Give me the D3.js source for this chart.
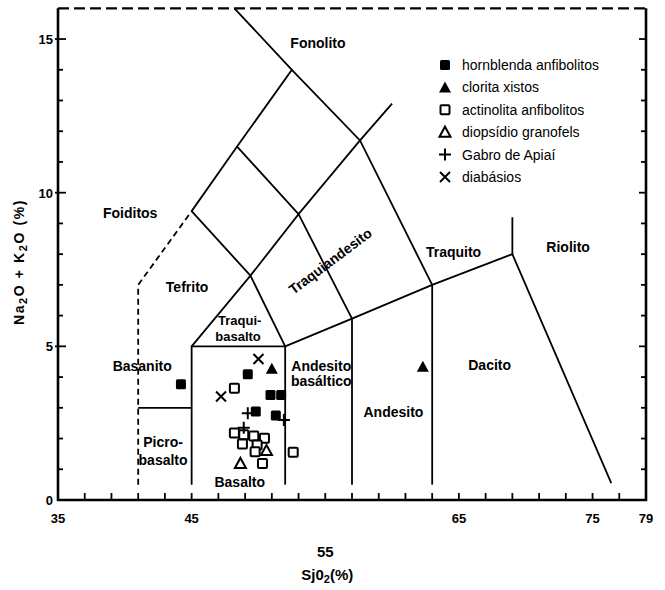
<!DOCTYPE html>
<html>
<head>
<meta charset="utf-8">
<script src="https://cdn.jsdelivr.net/npm/d3@7"></script>
<style>
body{margin:0;background:#fff;}
svg text{font-family:"Liberation Sans",Arial,sans-serif;fill:#000;}
.lbl{font-size:14px;font-weight:bold;}
.tick{font-size:13px;font-weight:bold;}
.leg{font-size:14px;}
</style>
</head>
<body>
<script>
// axis values
var xTicksLabelled = [35, 45, 65, 75, 79];
var yTicksLabelled = [0, 5, 10, 15];

// sample groups (SiO2, Na2O+K2O)
var hornblenda = [[44.2,3.77],[49.2,4.09],[50.9,3.42],[51.7,3.42],[49.8,2.88],[51.3,2.75]];
var clorita = [[51.0,4.27],[62.3,4.34]];
var actinolita = [[48.2,3.64],[48.2,2.18],[48.9,2.12],[49.65,2.08],[50.45,2.01],[48.8,1.82],[49.9,1.79],[49.75,1.57],[50.3,1.19],[52.6,1.55]];
var diopsidio = [[50.6,1.61],[48.65,1.19]];
var gabro = [[49.2,2.82],[51.9,2.6],[48.9,2.35]];
var diabasio = [[50.0,4.59],[47.2,3.37]];

// field boundaries
var solidLines = [
	[[41,3],[45,3]],
	[[45,0.5],[45,5],[52,5]],
	[[52,0.5],[52,5]],
	[[45,5],[49.4,7.3],[52,5]],
	[[52,5],[57,5.9],[63,7],[69,8],[76.4,0.55]],
	[[57,0.5],[57,5.9]],
	[[63,0.5],[63,7]],
	[[69,8],[69,9.2]],
	[[45,9.4],[49.4,7.3],[53,9.3],[57,5.9]],
	[[48.4,11.5],[53,9.3],[57.6,11.7],[60,12.9]],
	[[45,9.4],[48.4,11.5],[52.5,14],[48.2,16]],
	[[52.5,14],[57.6,11.7],[63,7]]
];
var dashedLines = [
	[[41,0.5],[41,7],[45,9.4]]
];

// field names
var fieldNames = [
	{t:"Fonolito", x:54.45, y:14.84},
	{t:"Foiditos", x:40.4, y:9.31},
	{t:"Tefrito", x:44.66, y:6.9},
	{t:"Traquiandesito", x:55.43, y:7.74, r:-37},
	{t:"Traqui-", x:48.6, y:5.80, s:13},
	{t:"basalto", x:48.47, y:5.30, s:13},
	{t:"Basanito", x:41.3, y:4.33},
	{t:"Andesito", x:54.7, y:4.33},
	{t:"basáltico", x:54.7, y:3.84},
	{t:"Picro-", x:42.86, y:1.85},
	{t:"basalto", x:42.86, y:1.27},
	{t:"Basalto", x:48.6, y:0.55},
	{t:"Andesito", x:60.1, y:2.83},
	{t:"Dacito", x:67.3, y:4.36},
	{t:"Traquito", x:64.6, y:8.04},
	{t:"Riolito", x:73.17, y:8.2}
];

var legendNames = ["hornblenda anfibolitos","clorita xistos","actinolita anfibolitos","diopsídio granofels","Gabro de Apiaí","diabásios"];

var W = 665, H = 590;
var x = d3.scaleLinear().domain([35, 79]).range([58, 646]);
var y = d3.scaleLinear().domain([0, 16]).range([500, 8.3]);

var svg = d3.select("body").append("svg").attr("width", W).attr("height", H);
var g = svg.append("g");

var line = d3.line().x(function(d){return x(d[0]);}).y(function(d){return y(d[1]);});

// frame
g.append("path").attr("d", line([[35,16],[35,0],[79,0],[79,16]]))
	.attr("fill","none").attr("stroke","#000").attr("stroke-width",2.6);
g.append("path").attr("d", line([[35,16],[79,16]]))
	.attr("fill","none").attr("stroke","#000").attr("stroke-width",2.2)
	.attr("stroke-dasharray","11,5");

// ticks
var xMinor = d3.range(37, 79, 2);
g.selectAll(".xt").data(xMinor).enter().append("line")
	.attr("x1", function(d){return x(d);}).attr("x2", function(d){return x(d);})
	.attr("y1", y(0)).attr("y2", y(0) - 7)
	.attr("stroke","#000").attr("stroke-width",1.8);
var yMinor = d3.range(1, 16, 1);
g.selectAll(".ytl").data(yMinor).enter().append("line")
	.attr("x1", function(d){return x(35) - (d % 5 === 0 ? 3 : 0);})
	.attr("x2", function(d){return x(35) + (d % 5 === 0 ? 8 : 5);})
	.attr("y1", function(d){return y(d);}).attr("y2", function(d){return y(d);})
	.attr("stroke","#000").attr("stroke-width",1.8);
g.selectAll(".ytr").data(yMinor).enter().append("line")
	.attr("x1", x(79)).attr("x2", function(d){return x(79) - (d % 5 === 0 ? 7 : 5);})
	.attr("y1", function(d){return y(d);}).attr("y2", function(d){return y(d);})
	.attr("stroke","#000").attr("stroke-width",1.8);

// tick labels
g.selectAll(".xl").data(xTicksLabelled).enter().append("text")
	.attr("class","tick").attr("text-anchor","middle")
	.attr("x", function(d){return x(d);}).attr("y", y(0) + 23)
	.text(function(d){return d;});
g.selectAll(".yl").data(yTicksLabelled).enter().append("text")
	.attr("class","tick").attr("text-anchor","end")
	.attr("x", x(35) - 5).attr("y", function(d){return y(d) + 5;})
	.text(function(d){return d;});

// axis titles
svg.append("text").attr("class","lbl").attr("text-anchor","middle")
	.attr("x", x(55)).attr("y", 557).style("font-size","15px").text("55");
var xt = svg.append("text").attr("class","lbl").attr("text-anchor","middle")
	.attr("x", x(55) + 2).attr("y", 580).style("font-size","15px");
xt.append("tspan").text("Sj0");
xt.append("tspan").attr("dy",3).style("font-size","11px").text("2");
xt.append("tspan").attr("dy",-3).text("(%)");

var yt = svg.append("text").attr("class","lbl").attr("text-anchor","middle")
	.attr("transform","translate(24,262) rotate(-90)")
	.style("font-size","14px").style("letter-spacing","1.6px");
yt.append("tspan").text("Na");
yt.append("tspan").attr("dy",3).style("font-size","11px").text("2");
yt.append("tspan").attr("dy",-3).text("O + K");
yt.append("tspan").attr("dy",3).style("font-size","11px").text("2");
yt.append("tspan").attr("dy",-3).text("O (%)");

// boundaries
g.selectAll(".solid").data(solidLines).enter().append("path")
	.attr("d", line).attr("fill","none").attr("stroke","#000").attr("stroke-width",1.8);
g.selectAll(".dashed").data(dashedLines).enter().append("path")
	.attr("d", line).attr("fill","none").attr("stroke","#000").attr("stroke-width",1.8)
	.attr("stroke-dasharray","6,4");

// field names
g.selectAll(".fname").data(fieldNames).enter().append("text")
	.attr("class","lbl").attr("text-anchor","middle").attr("dominant-baseline","middle")
	.style("font-size", function(d){return d.s ? d.s + "px" : null;})
	.attr("transform", function(d){
		return "translate(" + x(d.x) + "," + y(d.y) + ")" + (d.r ? " rotate(" + d.r + ")" : "");
	})
	.text(function(d){return d.t;});

// symbols
function drawMarker(sel, type){
	if(type === 0){
		sel.append("rect").attr("x",-5).attr("y",-5).attr("width",10).attr("height",10).attr("rx",1.5)
			.attr("fill","#000");
	} else if(type === 1){
		sel.append("path").attr("d","M0,-6 L6,5 L-6,5 Z").attr("fill","#000");
	} else if(type === 2){
		sel.append("rect").attr("x",-4.5).attr("y",-4.5).attr("width",9).attr("height",9).attr("rx",1)
			.attr("fill","#fff").attr("stroke","#000").attr("stroke-width",2);
	} else if(type === 3){
		sel.append("path").attr("d","M0,-5.5 L5.5,4.5 L-5.5,4.5 Z")
			.attr("fill","#fff").attr("stroke","#000").attr("stroke-width",2);
	} else if(type === 4){
		sel.append("path").attr("d","M-6,0 L6,0 M0,-6 L0,6")
			.attr("fill","none").attr("stroke","#000").attr("stroke-width",2);
	} else {
		sel.append("path").attr("d","M-5,-5 L5,5 M-5,5 L5,-5")
			.attr("fill","none").attr("stroke","#000").attr("stroke-width",2);
	}
}

var groups = [hornblenda, clorita, actinolita, diopsidio, gabro, diabasio];
groups.forEach(function(pts, type){
	pts.forEach(function(p){
		var m = g.append("g").attr("transform","translate(" + x(p[0]) + "," + y(p[1]) + ")");
		drawMarker(m, type);
	});
});

// legend
var leg = svg.append("g").attr("transform","translate(445,65)");
legendNames.forEach(function(name, i){
	var row = leg.append("g").attr("transform","translate(0," + (i * 22.4) + ")");
	drawMarker(row, i);
	row.append("text").attr("class","leg").attr("x",17).attr("y",5).text(name);
});
</script>
</body>
</html>
